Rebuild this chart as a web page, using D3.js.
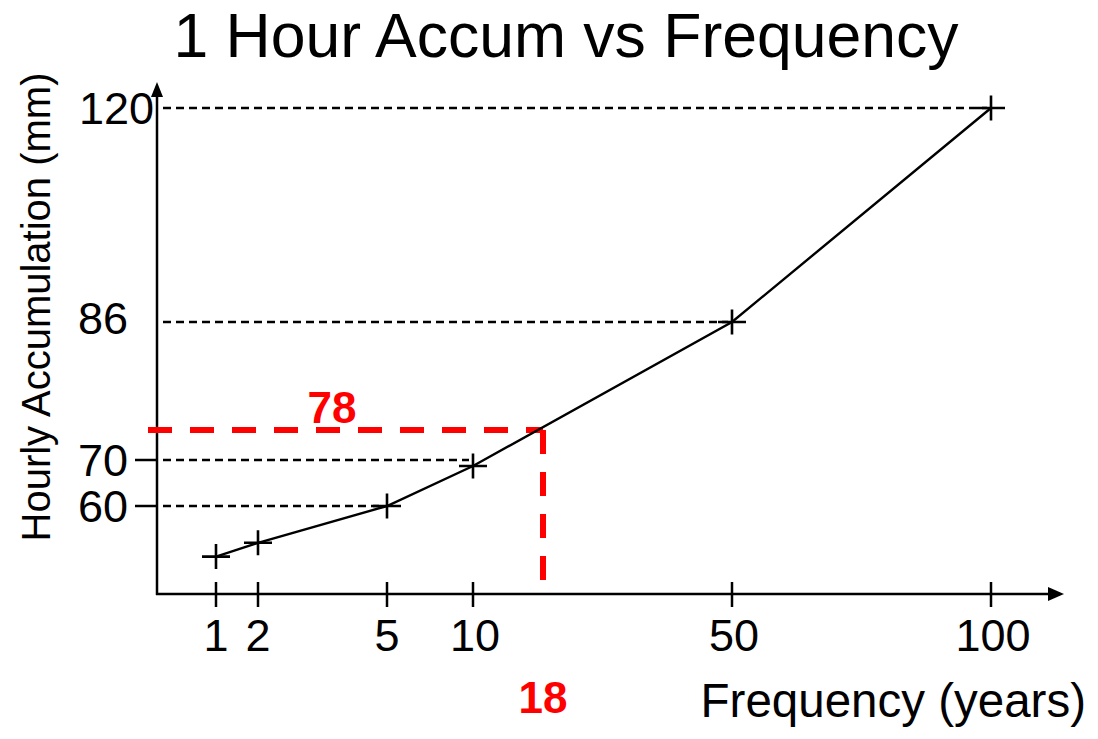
<!DOCTYPE html>
<html>
<head>
<meta charset="utf-8">
<script src="https://cdn.jsdelivr.net/npm/d3@7"></script>
<style>
  html, body { margin: 0; padding: 0; background: #fff; }
  svg { display: block; font-family: "Liberation Sans", Arial, sans-serif; }
</style>
</head>
<body>
<svg id="chart" width="1098" height="739"></svg>
<script>
// ---- data ----
const frequencies = [1, 2, 5, 10, 50, 100];            // years
const accumulations = [49, 52, 60, 68.7, 86, 120];     // mm
const xTickLabels = ["1", "2", "5", "10", "50", "100"];
const yTickValues = [60, 70, 86, 120];
const yTickLabels = ["60", "70", "86", "120"];
const guideFrequencies = [5, 10, 50, 100];             // points that get a dashed guide to the y axis
const guideValues = [60, 70, 86, 120];
const readValue = [78];                                 // red read-off value (mm)
const readFrequency = [18];                             // red read-off frequency (years)

// ---- layout ----
const svg = d3.select("#chart");
const axisX = 157, axisY = 594;

// hand-drawn, non-uniform axes -> piecewise linear scales
const x = d3.scaleLinear()
  .domain([1, 2, 5, 10, 18, 50, 100])
  .range([216, 258, 387, 473, 543, 732, 991]);
const y = d3.scaleLinear()
  .domain([60, 70, 78, 86, 120])
  .range([506, 460, 430, 322, 108]);

const data = frequencies.map((f, i) => ({ f, v: accumulations[i] }));

// ---- title ----
svg.append("text")
  .attr("x", 566).attr("y", 57)
  .attr("text-anchor", "middle")
  .attr("font-size", 62.5)
  .attr("fill", "#000")
  .text("1 Hour Accum vs Frequency");

// ---- y axis title ----
svg.append("text")
  .attr("transform", `translate(50,307) rotate(-90)`)
  .attr("text-anchor", "middle")
  .attr("font-size", 40)
  .attr("fill", "#000")
  .text("Hourly Accumulation (mm)");

// ---- x axis title ----
svg.append("text")
  .attr("x", 1086).attr("y", 717)
  .attr("text-anchor", "end")
  .attr("font-size", 47.5)
  .attr("fill", "#000")
  .text("Frequency (years)");

// ---- dashed guides ----
svg.append("g").selectAll("line")
  .data(guideValues.map((v, i) => ({ v, f: guideFrequencies[i] })))
  .join("line")
  .attr("x1", axisX + 6)
  .attr("x2", d => x(d.f) - 4)
  .attr("y1", d => y(d.v))
  .attr("y2", d => y(d.v))
  .attr("stroke", "#000")
  .attr("stroke-width", 2.3)
  .attr("stroke-dasharray", "8,5");

// ---- axes ----
const axes = svg.append("g").attr("stroke", "#000").attr("stroke-width", 2.5);
axes.append("line").attr("x1", axisX).attr("x2", axisX).attr("y1", axisY + 1).attr("y2", 90);
axes.append("line").attr("x1", axisX - 1).attr("x2", 1052).attr("y1", axisY).attr("y2", axisY);
svg.append("path")
  .attr("d", `M${axisX},82 L${axisX - 6},97 L${axisX + 6},97 Z`)
  .attr("fill", "#000");
svg.append("path")
  .attr("d", `M1064,${axisY} L1048,${axisY - 7} L1048,${axisY + 7} Z`)
  .attr("fill", "#000");

// x ticks
svg.append("g").selectAll("line")
  .data(frequencies)
  .join("line")
  .attr("x1", d => x(d)).attr("x2", d => x(d))
  .attr("y1", axisY - 12).attr("y2", axisY + 13)
  .attr("stroke", "#000").attr("stroke-width", 2.5);
svg.append("g").selectAll("text")
  .data(frequencies)
  .join("text")
  .attr("x", d => x(d) + (d >= 10 ? 2 : 0))
  .attr("y", 651)
  .attr("text-anchor", "middle")
  .attr("font-size", 45)
  .attr("fill", "#000")
  .text((d, i) => xTickLabels[i]);

// y ticks (solid stubs for the lower two values)
svg.append("g").selectAll("line")
  .data(yTickValues.filter(v => v <= 70))
  .join("line")
  .attr("x1", 135).attr("x2", axisX)
  .attr("y1", d => y(d)).attr("y2", d => y(d))
  .attr("stroke", "#000").attr("stroke-width", 2.5);
svg.append("g").selectAll("text")
  .data(yTickValues)
  .join("text")
  .attr("x", d => d >= 120 ? 154 : 128)
  .attr("y", d => y(d) + (d === 86 ? -4 : 0))
  .attr("dy", "0.36em")
  .attr("text-anchor", "end")
  .attr("font-size", 45)
  .attr("fill", "#000")
  .text((d, i) => yTickLabels[i]);

// ---- red read-off ----
const rx = x(readFrequency[0]), ry = y(readValue[0]);
const red = svg.append("g")
  .attr("stroke", "#ff0000").attr("stroke-width", 6)
  .attr("stroke-dasharray", "24,18");
red.append("line").attr("x1", 148).attr("x2", rx).attr("y1", ry).attr("y2", ry);
red.append("line").attr("x1", rx).attr("x2", rx).attr("y1", ry).attr("y2", axisY - 14);
svg.append("text")
  .attr("x", 332).attr("y", ry - 7)
  .attr("text-anchor", "middle")
  .attr("font-size", 44).attr("font-weight", "bold")
  .attr("fill", "#ff0000")
  .text(String(readValue[0]));
svg.append("text")
  .attr("x", rx).attr("y", 713)
  .attr("text-anchor", "middle")
  .attr("font-size", 44).attr("font-weight", "bold")
  .attr("fill", "#ff0000")
  .text(String(readFrequency[0]));

// ---- curve ----
svg.append("path")
  .datum(data)
  .attr("d", d3.line().x(d => x(d.f)).y(d => y(d.v)))
  .attr("fill", "none")
  .attr("stroke", "#000")
  .attr("stroke-width", 2.4);

// ---- + markers ----
const mk = svg.append("g").attr("stroke", "#000").attr("stroke-width", 2.6);
mk.selectAll("path")
  .data(data)
  .join("path")
  .attr("d", d => {
    const cx = x(d.f), cy = y(d.v);
    return `M${cx - 14},${cy} L${cx + 14},${cy} M${cx},${cy - 12.5} L${cx},${cy + 12.5}`;
  });
</script>
</body>
</html>
